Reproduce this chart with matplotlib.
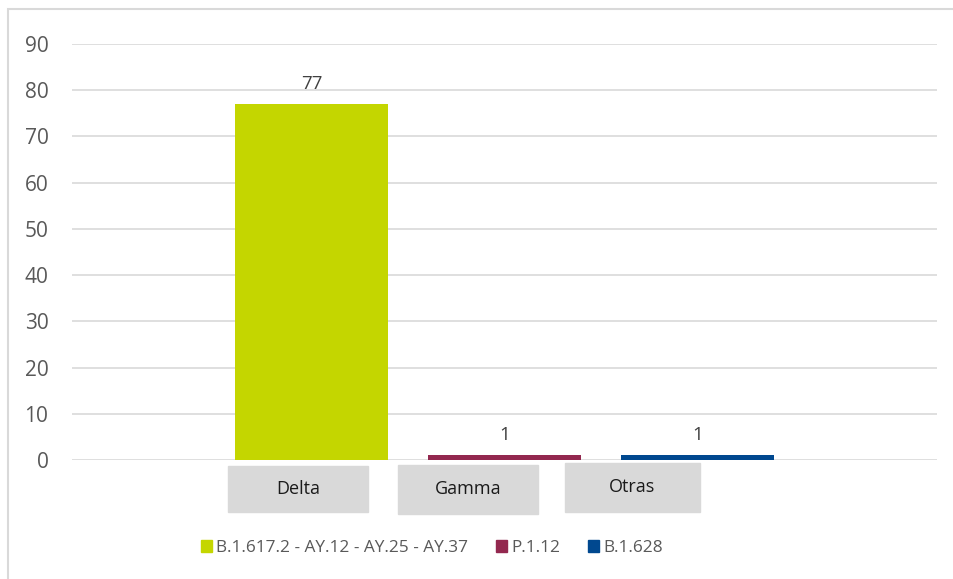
import matplotlib.pyplot as plt
from matplotlib.patches import Rectangle, Patch

variantes = ["B.1.617.2 - AY.12 - AY.25 - AY.37", "P.1.12", "B.1.628"]
grupos = ["Delta", "Gamma", "Otras"]
casos = [77, 1, 1]
colores = ["#C4D600", "#93284F", "#00488F"]
yticks = [0, 10, 20, 30, 40, 50, 60, 70, 80, 90]

plt.rcParams['font.family'] = ['Open Sans', 'DejaVu Sans']
W, H = 954, 579
fig = plt.figure(figsize=(W / 100, H / 100), dpi=100)
ax = fig.add_axes([72 / W, 1 - 460 / H, (937 - 72) / W, (460 - 44) / H])

pos = list(range(len(casos)))
bars = ax.bar(pos, casos, width=0.79, color=colores, zorder=3)
for b, v in zip(bars, casos):
    ax.annotate(str(v), (b.get_x() + b.get_width() / 2, v), xytext=(0, 8),
                textcoords="offset points", ha="center", va="bottom",
                fontsize=13.5, color="#404040")

ax.set_xlim(-1.24, 3.24)
ax.set_ylim(0, 90)
ax.set_yticks(yticks)
ax.set_xticks([])
ax.yaxis.grid(True, color="#D9D9D9", linewidth=1.2, zorder=0)
ax.tick_params(axis="y", length=0, pad=17, labelsize=15, labelcolor="#595959")
for s in ax.spines.values():
    s.set_visible(False)

# cajas grises con los nombres de grupo bajo el eje
cajas = [(228, 466, 140, 46), (398, 465, 140, 49), (565, 463, 135, 49)]
for (x0, y0, w, h), g in zip(cajas, grupos):
    fig.patches.append(Rectangle((x0 / W, 1 - (y0 + h) / H), w / W, h / H,
                                 transform=fig.transFigure, color="#D9D9D9"))
    fig.text((x0 + w / 2) / W, 1 - (y0 + h / 2) / H, g, ha="center", va="center",
             fontsize=13, color="#1A1A1A")

# borde del grafico
fig.patches.append(Rectangle((8 / W, -0.1), 1.2, 1 - 9 / H + 0.1, transform=fig.transFigure,
                             fill=False, edgecolor="#D9D9D9", linewidth=1.5))

handles = [Patch(color=c) for c in colores]
fig.legend(handles, variantes, loc="center", bbox_to_anchor=(432 / W, 1 - 548 / H),
           ncol=3, frameon=False, fontsize=12.4, labelcolor="#595959",
           handlelength=0.65, handleheight=0.65, handletextpad=0.25, columnspacing=1.6)

fig.savefig("out.png", dpi=100)
